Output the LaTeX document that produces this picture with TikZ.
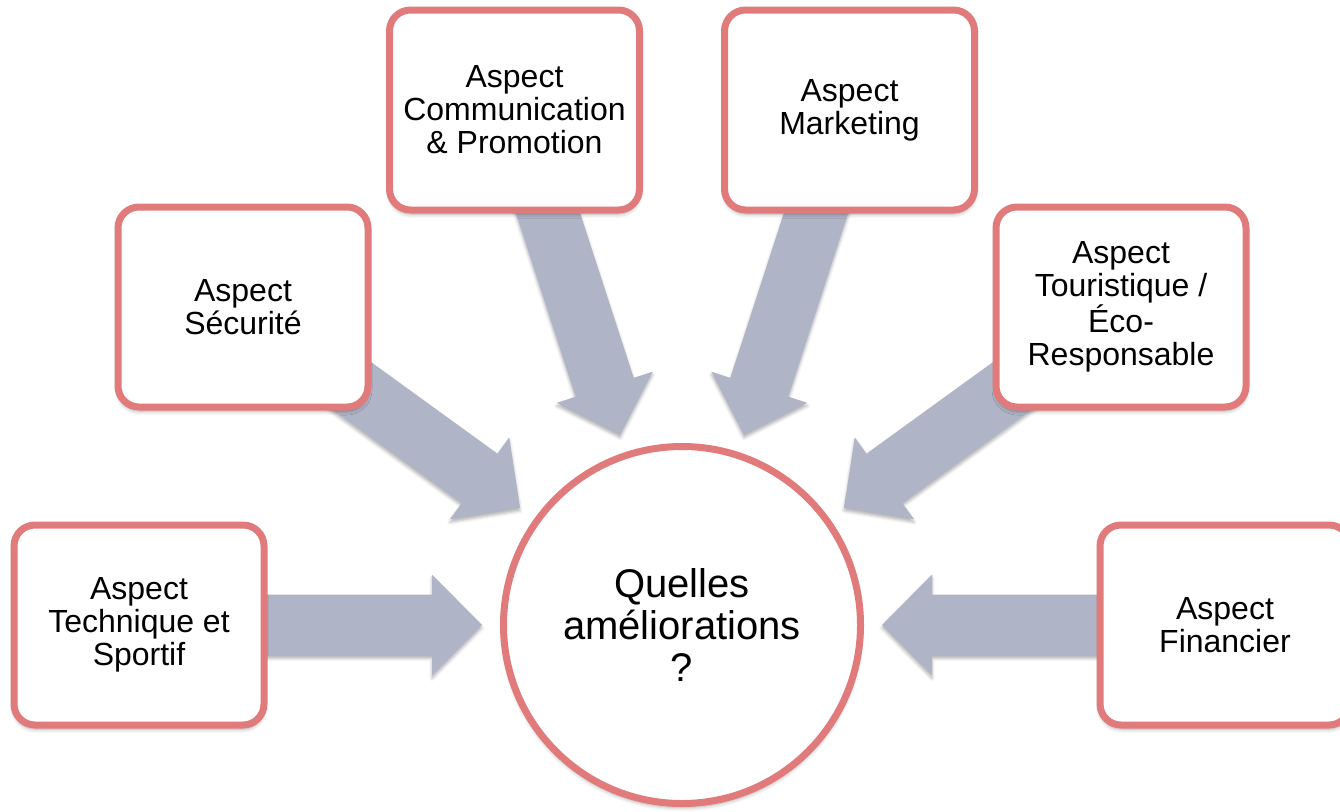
\documentclass[tikz,border=0pt]{standalone}
\usepackage{fontspec}
\setmainfont{Liberation Sans}
\usetikzlibrary{calc,shadows.blur}
\definecolor{boxborder}{RGB}{225,123,123}
\definecolor{arrowfill}{RGB}{176,180,199}
\pgfdeclarelayer{bg}
\pgfsetlayers{bg,main}
\begin{document}
\begin{tikzpicture}[x=1pt,y=-1pt,
  aspectbox/.style={draw=boxborder, line width=7pt, fill=white, rounded corners=21pt,
    minimum width=250pt, minimum height=200pt, align=center, inner sep=0pt,
    font=\fontsize{32}{33}\selectfont,
    blur shadow={shadow xshift=0pt, shadow yshift=-4pt, shadow blur radius=4pt, shadow opacity=35}},
  hub/.style={circle, draw=boxborder, line width=7pt, fill=white, minimum size=357pt,
    align=center, inner sep=0pt, font=\fontsize{40}{42}\selectfont,
    blur shadow={shadow xshift=0pt, shadow yshift=-4pt, shadow blur radius=4pt, shadow opacity=35}},
  blockarrow/.style={fill=arrowfill,
    blur shadow={shadow xshift=0pt, shadow yshift=-3pt, shadow blur radius=3pt, shadow opacity=30}}]
\useasboundingbox (0,0) rectangle (1340,811);
\clip (0,0) rectangle (1340,811);

\node[hub] (c) at (682,625) {Quelles\\améliorations\\?};
\node[aspectbox] (b1) at (139,625) {Aspect\\Technique et\\Sportif};
\node[aspectbox] (b2) at (243,307) {Aspect\\Sécurité};
\node[aspectbox] (b3) at (514.5,110) {Aspect\\Communication\\\& Promotion};
\node[aspectbox] (b4) at (849.5,110) {Aspect\\Marketing};
\node[aspectbox] (b5) at (1121,307) {Aspect\\Touristique /\\Éco-\\Responsable};
\node[aspectbox] (b6) at (1225,625) {Aspect\\Financier};

\begin{pgfonlayer}{bg}
\foreach \bx in {b1,b2,b3,b4,b5,b6}{
  \coordinate (tip-\bx) at ($(c.center)!200pt!(\bx.center)$);
  \coordinate (base-\bx) at ($(c.center)!250pt!(\bx.center)$);
  \fill[blockarrow] (tip-\bx)
    -- ($(base-\bx)!50.5pt!90:(tip-\bx)$)
    -- ($(base-\bx)!30.5pt!90:(tip-\bx)$)
    -- ($(\bx.center)!30.5pt!90:(base-\bx)$)
    -- ($(\bx.center)!30.5pt!-90:(base-\bx)$)
    -- ($(base-\bx)!30.5pt!-90:(tip-\bx)$)
    -- ($(base-\bx)!50.5pt!-90:(tip-\bx)$)
    -- cycle;
}
\end{pgfonlayer}
\end{tikzpicture}
\end{document}
